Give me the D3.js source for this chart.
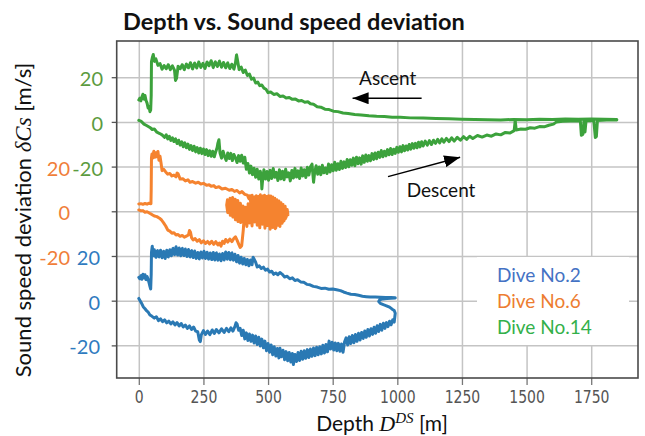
<!DOCTYPE html>
<html><head><meta charset="utf-8">
<script src="https://cdn.jsdelivr.net/npm/d3@7"></script>
<style>body{margin:0;background:#fff}svg{display:block}</style>
</head><body><svg id="c" width="645" height="436"></svg>
<script>
// ---------------- data ----------------
const depthTicks = [0, 250, 500, 750, 1000, 1250, 1500, 1750];
const yGridValues = [-60, -40, -20, 0, 20, 40, 60];
const seriesTickLabels = [20, 0, -20];
const diveNames = ["Dive No.2", "Dive No.6", "Dive No.14"];
const diveOffsets = [-40, 0, 40];   // vertical stacking offsets of the three dives [m/s]

const dive2Descent = [[0,1],[5,0],[10,-1],[17,-2.7],[24,-3.6],[30,-4.5],[36,-5.1],[43,-6.4],[50,-6.9],[60,-7.8],[68,-7.2],[76,-8.9],[84,-8.1],[92,-9.4],[100,-8.6],[108,-9.9],[116,-9.1],[124,-10.4],[132,-9.5],[140,-10.9],[148,-9.8],[156,-11.3],[164,-10.2],[172,-11.8],[180,-10.9],[188,-12.4],[196,-11.3],[204,-12.9],[212,-11.8],[220,-13.6],[228,-13.9],[234,-17.6],[238,-18.3],[242,-15.2],[250,-13.4],[258,-15.1],[266,-13.6],[275,-15.2],[284,-13.1],[292,-14.7],[300,-12.9],[310,-14.4],[320,-12.6],[330,-14.2],[339,-12.4],[348,-13.9],[356,-12.2],[364,-13.6],[372,-11.5],[376,-9.9],[380,-10.4],[386,-13.2],[392,-12.4],[398,-15.6],[404,-13.2],[410,-17.1],[416,-14.4],[422,-17.8],[428,-14.9],[434,-18.2],[440,-15.4],[446,-18.9],[452,-15.8],[458,-19.6],[464,-16.4],[470,-20.3],[476,-17.2],[482,-21.1],[488,-18.1],[494,-22.4],[500,-19.2],[506,-23.1],[512,-19.8],[518,-24.2],[524,-20.6],[530,-24.8],[536,-21.4],[542,-25.6],[546,-21.3],[552,-25.1],[558,-22.2],[564,-26.4],[570,-22.8],[576,-26.9],[582,-23.2],[588,-27.4],[594,-23.6],[598,-28.6],[604,-24.1],[610,-27.2],[616,-23.2],[622,-26.8],[628,-22.6],[634,-26.2],[640,-22.4],[646,-25.8],[652,-21.9],[658,-25.4],[664,-21.6],[670,-24.9],[676,-21.2],[682,-24.6],[688,-20.8],[694,-24.2],[700,-20.6],[706,-23.8],[712,-19.9],[718,-23.4],[724,-19.6],[730,-22.9],[736,-18.1],[742,-21.6],[748,-18.6],[754,-22.1],[760,-18.9],[766,-22.4],[772,-19.1],[778,-22.6],[784,-19.4],[790,-23.1],[796,-18.4],[802,-16.6],[808,-19.8],[814,-16.1],[820,-19.2],[826,-15.6],[832,-18.8],[838,-15.1],[844,-18.2],[850,-14.6],[856,-17.6],[862,-14.2],[868,-16.9],[874,-13.6],[880,-16.4],[886,-12.9],[892,-15.8],[898,-12.6],[904,-15.1],[910,-11.9],[916,-14.6],[922,-11.2],[928,-13.8],[934,-10.6],[940,-13.2],[946,-10.1],[952,-12.4],[958,-9.8],[964,-11.6],[970,-9.2],[976,-10.8],[982,-8.6],[988,-9.6],[990,-7.6],[992,-5.6],[988,-4.4],[980,-3.8],[970,-2.9],[958,-2.3],[946,-1.8],[934,-1.2],[928,-0.4],[932,0.4],[945,0.8],[960,1.0],[975,1.1],[992,1.2]];
const dive2Ascent = [[992,1.3],[975,1.4],[955,1.4],[934,1.5],[915,1.6],[895,1.6],[880,1.8],[865,2.0],[850,2.4],[835,2.8],[820,2.9],[805,3.4],[792,3.9],[780,4.5],[765,4.9],[750,5.2],[735,5.1],[720,5.6],[705,5.5],[690,6.1],[675,6.4],[662,7.1],[650,7.3],[638,8.2],[626,8.4],[614,9.4],[604,9.0],[594,10.2],[584,9.8],[574,10.9],[564,10.6],[554,11.9],[546,12.6],[538,11.6],[530,12.4],[522,11.8],[514,13.2],[506,12.8],[498,14.1],[490,13.6],[482,15.0],[474,14.4],[466,15.6],[458,15.1],[452,17.2],[446,18.6],[442,19.4],[438,16.1],[432,18.2],[426,15.6],[420,18.4],[414,16.1],[408,18.9],[402,16.4],[396,19.4],[390,16.8],[384,20.2],[378,17.4],[372,20.8],[366,18.1],[360,21.4],[354,18.3],[348,21.6],[342,18.6],[336,21.8],[330,18.2],[324,21.1],[318,17.9],[312,20.9],[306,18.1],[300,21.4],[294,18.2],[288,21.6],[282,18.4],[276,21.3],[270,18.6],[264,21.7],[258,18.9],[252,22.1],[246,19.1],[240,21.8],[234,18.7],[228,21.6],[222,18.9],[216,22.2],[210,19.3],[204,22.4],[198,19.6],[192,22.9],[186,19.8],[180,23.1],[174,20.2],[168,23.4],[162,20.1],[156,23.6],[150,20.4],[144,24.1],[138,20.6],[132,23.4],[126,20.1],[120,22.8],[114,19.6],[108,22.6],[102,18.9],[96,22.1],[90,19.2],[84,22.6],[78,19.6],[72,22.4],[66,19.4],[60,22.8],[56,20.1],[52,24.4],[49,21.6],[48,12],[46,5.2],[43,6.4],[40,7.8],[36,9.6],[32,10.8],[28,9.4],[24,11.6],[20,10.2],[16,11.8],[12,9.6],[8,11.2],[4,9.8],[0,10.4]];

const dive6Descent = [[0,0.6],[8,0.2],[16,0.3],[24,-0.4],[32,-0.2],[42,-0.9],[50,-1.4],[60,-2.1],[70,-2.4],[80,-3.1],[88,-3.9],[96,-5.2],[104,-6.6],[112,-8.4],[120,-8.9],[128,-9.8],[136,-9.6],[144,-10.6],[152,-10.4],[160,-11.2],[168,-10.8],[176,-11.6],[184,-11.1],[192,-10.6],[196,-8.6],[200,-9.4],[204,-11.8],[210,-12.8],[218,-12.2],[226,-13.4],[234,-12.7],[242,-14.1],[250,-13.2],[258,-14.4],[266,-13.5],[274,-14.6],[282,-13.4],[290,-14.8],[298,-13.6],[306,-15.1],[312,-14.2],[318,-15.6],[324,-13.4],[330,-14.4],[336,-12.6],[344,-13.8],[352,-12.4],[360,-13.6],[368,-12.1],[374,-11.4],[380,-12.9],[386,-14.6],[392,-16.2],[398,-15.4],[401,-12],[404,-8.5],[406,-5.4],[403,-4.2],[398,-1.5],[394,-5.0],[389,-0.8],[384,-4.6],[379,1.2],[374,-3.8],[369,2.4],[364,-2.6],[359,3.6],[354,-1.8],[349,4.4],[344,-0.6],[340,2.8],[343,5.2],[348,0.6],[353,5.8],[358,1.4],[363,6.2],[368,0.2],[373,5.4],[378,-1.6],[383,4.8],[388,-2.4],[393,3.6],[398,-3.8],[403,2.4],[408,-5.6],[413,1.8],[418,-6.8],[423,3.4],[428,-5.2],[433,4.6],[438,-6.6],[443,5.2],[448,-4.8],[453,6.2],[458,-6.2],[463,5.6],[468,-7.4],[473,6.4],[478,-5.8],[483,5.8],[488,-7.6],[493,6.6],[498,-6.4],[503,5.2],[508,-8.0],[513,4.8],[518,-7.2],[523,4.2],[528,-7.8],[533,3.6],[538,-6.2],[543,2.8],[548,-5.4],[553,2.2],[558,-4.6],[563,1.4],[568,-3.2],[573,0.4],[577,-1.6]];
const dive6Ascent = [[574,0.8],[570,-2.6],[566,2.2],[562,-4.2],[558,3.0],[554,-5.4],[550,3.8],[546,-6.8],[542,4.6],[538,-5.6],[534,5.2],[530,-7.4],[526,5.8],[522,-6.2],[518,6.4],[514,-4.6],[510,6.8],[506,-3.6],[502,7.0],[498,-2.4],[494,6.6],[490,-1.6],[486,7.2],[482,-3.2],[478,6.8],[474,-0.8],[470,7.4],[466,-2.2],[462,6.6],[458,0.4],[454,7.0],[450,-1.4],[446,6.4],[442,1.2],[438,7.2],[434,2.6],[430,7.0],[426,5.6],[420,7.2],[410,7.6],[399,8.8],[390,8.2],[380,9.3],[370,8.9],[360,9.8],[350,9.4],[335,10.3],[322,10.0],[310,11.0],[298,10.6],[290,11.5],[280,11.2],[272,11.9],[262,11.6],[250,12.5],[240,12.2],[230,13.0],[220,12.6],[208,13.3],[198,13.0],[190,14.1],[180,13.6],[170,14.6],[160,14.4],[152,16.8],[148,17.1],[144,15.4],[136,16.2],[128,15.8],[120,16.9],[112,16.6],[104,17.6],[96,18.8],[90,18.2],[86,21.6],[82,24.6],[78,22.8],[74,26.8],[70,24.4],[66,26.2],[62,24.2],[58,26.9],[54,23.8],[51,25.6],[49,24],[48,10],[47,3.4],[40,3.6],[32,3.2],[24,3.5],[16,3.1],[8,3.4],[0,3.3]];

const dive14Descent = [[0,0.7],[10,0.2],[20,-1],[30,-1.6],[43,-2.5],[52,-3.4],[60,-3.2],[70,-4.6],[81,-5.2],[90,-5.8],[100,-6.9],[106,-5.8],[112,-7.6],[118,-6.4],[124,-8.3],[130,-7.1],[136,-8.8],[142,-7.6],[148,-9.7],[154,-8.2],[160,-10.4],[166,-8.9],[172,-11.1],[178,-9.4],[184,-11.6],[190,-9.9],[196,-12.3],[202,-10.6],[208,-12.8],[214,-10.9],[220,-13.4],[226,-11.5],[232,-13.9],[238,-11.8],[244,-14.2],[250,-12.1],[256,-14.6],[262,-12.4],[268,-15.1],[274,-12.9],[280,-15.4],[286,-13.1],[292,-15.6],[298,-13.2],[303,-11.5],[306,-9.5],[310,-8],[314,-13.8],[320,-16.2],[326,-13.1],[332,-15.6],[338,-17.2],[344,-13.9],[350,-16.4],[356,-14.1],[362,-17.3],[368,-14.6],[374,-16.1],[380,-18.2],[386,-15.1],[392,-17.6],[398,-14.9],[404,-18.4],[410,-15.8],[416,-21.2],[422,-18.6],[428,-22.9],[434,-19.8],[440,-23.6],[446,-20.7],[452,-24.8],[458,-21.2],[464,-25.6],[470,-22.1],[474,-24.9],[476,-30],[479,-25.8],[484,-21.4],[490,-25.6],[496,-22.2],[502,-26.1],[508,-21.6],[514,-25.3],[520,-20.9],[526,-24.8],[532,-22.6],[538,-26.2],[544,-21.4],[550,-25.5],[556,-22.1],[562,-25.9],[568,-21.2],[574,-24.6],[580,-22.8],[586,-26.4],[592,-21.7],[598,-25.1],[604,-20.8],[610,-24.7],[616,-21.9],[622,-25.3],[628,-20.6],[634,-24.2],[640,-21.4],[646,-24.9],[652,-20.3],[658,-23.8],[664,-20.1],[670,-18.9],[676,-27],[680,-22.8],[686,-19.6],[692,-23.4],[698,-20.2],[704,-23.6],[710,-19.4],[716,-22.8],[722,-20.6],[728,-23.1],[734,-18.8],[740,-22.4],[746,-19.2],[752,-21.9],[758,-18.1],[764,-21.6],[770,-18.7],[776,-21.3],[782,-17.6],[788,-20.8],[794,-17.9],[800,-20.4],[806,-16.8],[812,-20.1],[818,-16.9],[824,-19.4],[830,-16.2],[836,-19.6],[842,-15.8],[848,-18.7],[854,-16.1],[860,-18.9],[866,-15.2],[872,-18.1],[878,-14.8],[884,-17.6],[890,-15.1],[896,-17.4],[902,-14.2],[908,-16.8],[914,-13.9],[920,-16.5],[926,-13.6],[932,-15.9],[938,-12.8],[944,-15.6],[950,-13.1],[956,-15.2],[962,-12.4],[968,-14.7],[974,-11.9],[980,-14.6],[986,-12.2],[992,-14.1],[998,-11.4],[1004,-13.6],[1010,-11.1],[1016,-13.4],[1022,-10.6],[1028,-12.9],[1034,-10.8],[1040,-12.6],[1046,-10.1],[1052,-12.2],[1058,-9.7],[1064,-11.8],[1070,-9.6],[1076,-11.6],[1082,-9.1],[1088,-11.2],[1094,-8.9],[1100,-10.8],[1108,-8.6],[1116,-10.4],[1124,-8.4],[1132,-10.1],[1140,-8.2],[1148,-9.6],[1156,-7.8],[1164,-9.4],[1172,-7.6],[1180,-9.1],[1190,-7.4],[1200,-8.8],[1210,-7.1],[1220,-8.6],[1232,-6.9],[1244,-8.2],[1256,-6.6],[1268,-7.8],[1280,-6.4],[1292,-7.4],[1310,-6.1],[1328,-6.8],[1346,-5.9],[1364,-6.4],[1382,-5.4],[1400,-5.8],[1418,-4.7],[1436,-5],[1452,-3.9],[1456,0.5],[1460,-3.6],[1478,-3.2],[1496,-3.3],[1514,-2.6],[1532,-2.8],[1550,-2.1],[1568,-2.2],[1586,-1.5],[1604,-1],[1616,0],[1640,0.3],[1670,0.4],[1700,0.5],[1708,0.4],[1712,-6],[1718,-5.5],[1722,0.4],[1726,-4.5],[1730,0.5],[1760,0.6],[1766,-7],[1770,-6.5],[1774,0.6],[1810,0.8],[1849,0.9]];
const dive14Ascent = [[1849,1.1],[1800,1.2],[1750,1.3],[1700,1.2],[1650,1.3],[1600,1.1],[1550,1.2],[1500,1.0],[1450,1.1],[1400,0.9],[1350,1.0],[1300,1.1],[1250,1.2],[1200,1.4],[1150,1.5],[1100,1.7],[1050,1.8],[1011,2.1],[980,2.1],[950,2.4],[920,2.5],[890,2.7],[860,3.1],[835,3.3],[810,3.8],[790,4.0],[770,4.6],[753,4.8],[736,5.5],[720,5.7],[704,6.6],[690,6.8],[676,7.9],[664,8.1],[654,9.0],[642,8.8],[630,9.6],[618,9.4],[606,10.2],[594,10.1],[582,10.9],[570,10.7],[558,11.6],[546,11.4],[534,12.6],[522,12.3],[510,13.4],[500,13.1],[492,14.6],[484,15.1],[476,16.5],[468,16.2],[460,17.8],[452,17.4],[444,19.6],[436,19.1],[428,21.4],[420,20.8],[412,23.2],[404,22.1],[396,24.5],[388,23.4],[382,27.5],[378,30],[374,26.5],[368,23.6],[360,25.8],[352,23.9],[344,26.4],[336,24.2],[328,26.6],[320,24.5],[312,27.2],[304,24.8],[296,26.9],[288,24.3],[280,27.4],[272,25.1],[264,26.8],[256,23.9],[248,26.2],[240,24.4],[232,26.8],[224,24.1],[216,26.3],[208,23.7],[200,26.5],[192,24.2],[184,25.9],[176,23.4],[168,25.6],[160,23.8],[152,24.9],[146,19.5],[142,18.6],[138,23.2],[130,25.1],[122,23.4],[114,25.6],[106,23.8],[98,25.2],[90,23.6],[82,26.1],[74,25.3],[66,28.2],[60,27.1],[56,30.2],[52,28.6],[49,27],[48,12],[46,5.4],[43,4.6],[40,6.8],[36,6.2],[32,8.4],[28,9.6],[24,11.8],[20,10.2],[16,12.4],[12,11.1],[8,9.4],[4,10.6],[0,9.8]];

const dives = [
  {name: diveNames[0], offset: diveOffsets[0], points: dive2Descent.concat(dive2Ascent)},
  {name: diveNames[1], offset: diveOffsets[1], points: dive6Descent.concat(dive6Ascent)},
  {name: diveNames[2], offset: diveOffsets[2], points: dive14Descent.concat(dive14Ascent)}
];

// annotations in data coordinates (depth, stacked deviation)
const annotationTexts = ["Ascent", "Descent"];
const annotationAnchors = [[852, 56.5], [1036, 6.4]];
const arrowStarts = [[1094, 50.6], [964, 15.5]];
const arrowEnds = [[827, 50.6], [1243, 24.2]];

// ---------------- styles ----------------
const lineColors = ["#2a79b4", "#f5832f", "#3ca23c"];
const tickLabelColors = ["#2f7bc0", "#f07e3a", "#5c9b40"];
const tickLabelX = [100, 70, 103];
const legendColors = ["#4472c4", "#ed7d31", "#33b04a"];
const FONT = "Lato, 'Open Sans', sans-serif";

const L = 116.7, R = 638, T = 41, B = 378;
const svg = d3.select("#c");
const x = d3.scaleLinear().domain([-85.5, 1931]).range([L, R]);
const y = d3.scaleLinear().domain([-74.6, 76.2]).range([B, T]);

// grid
const gx = svg.append("g").attr("transform", `translate(0,${B})`)
  .call(d3.axisBottom(x).tickValues(depthTicks).tickSize(-(B - T)).tickFormat(""));
gx.select(".domain").remove();
gx.selectAll("line").attr("stroke", "#c4c4c4").attr("stroke-width", 1.5);
const gy = svg.append("g").attr("transform", `translate(${L},0)`)
  .call(d3.axisLeft(y).tickValues(yGridValues).tickSize(-(R - L)).tickFormat(""));
gy.select(".domain").remove();
gy.selectAll("line").attr("stroke", "#c4c4c4").attr("stroke-width", 1.5);

// legend box (covers grid)
const legend = svg.append("g");
legend.append("rect").attr("x", 477).attr("y", 257).attr("width", 152).attr("height", 88).attr("fill", "#fff");

// lines
const line = d3.line();
dives.forEach((dv, i) => {
  svg.append("path")
    .attr("d", line.x(d => x(d[0])).y(d => y(d[1] + dv.offset))(dv.points))
    .attr("fill", "none").attr("stroke", lineColors[i])
    .attr("stroke-width", 3).attr("stroke-linejoin", "round").attr("stroke-linecap", "round");
});

// legend text
diveNames.forEach((n, i) => {
  legend.append("text").attr("x", 497).attr("y", 282 + i * 26)
    .attr("font-family", FONT).attr("font-size", 19).attr("fill", legendColors[i]).text(n);
});

// axes ticks
const ax = svg.append("g").attr("transform", `translate(0,${B})`)
  .call(d3.axisBottom(x).tickValues(depthTicks).tickSize(7).tickPadding(6).tickFormat(d3.format("d")));
ax.select(".domain").remove();
ax.selectAll("line").attr("stroke", "#777").attr("stroke-width", 1.3);
ax.selectAll("text").attr("font-family", "'DejaVu Sans', sans-serif").attr("font-size", 17.5)
  .attr("fill", "#555").attr("transform", "scale(0.8,1)");
const ay = svg.append("g").attr("transform", `translate(${L},0)`)
  .call(d3.axisLeft(y).tickValues(yGridValues).tickSize(5).tickFormat(""));
ay.select(".domain").remove();
ay.selectAll("line").attr("stroke", "#555").attr("stroke-width", 1.3);

// colored y tick labels
dives.forEach((dv, i) => {
  svg.append("g").selectAll("text").data(seriesTickLabels).join("text")
    .attr("x", tickLabelX[i]).attr("y", d => y(d + dv.offset)).attr("dy", "0.45em")
    .attr("text-anchor", "end").attr("font-family", FONT).attr("font-size", 20)
    .attr("fill", tickLabelColors[i]).text(d => d);
});

// frame
svg.append("rect").attr("x", L).attr("y", T).attr("width", R - L).attr("height", B - T)
  .attr("fill", "none").attr("stroke", "#4a4a4a").attr("stroke-width", 1.6);

// annotations
svg.append("defs").append("marker").attr("id", "ah").attr("markerUnits", "userSpaceOnUse")
  .attr("markerWidth", 17).attr("markerHeight", 12).attr("refX", 16).attr("refY", 6)
  .attr("orient", "auto").append("path").attr("d", "M0,0 L16,6 L0,12 Z").attr("fill", "#000");
annotationTexts.forEach((t, i) => {
  svg.append("text").attr("x", x(annotationAnchors[i][0])).attr("y", y(annotationAnchors[i][1]))
    .attr("font-family", FONT).attr("font-size", 19).attr("fill", "#111").text(t);
  svg.append("line").attr("x1", x(arrowStarts[i][0])).attr("y1", y(arrowStarts[i][1]))
    .attr("x2", x(arrowEnds[i][0])).attr("y2", y(arrowEnds[i][1]))
    .attr("stroke", "#000").attr("stroke-width", 1.5).attr("marker-end", "url(#ah)");
});

// title
svg.append("text").attr("x", 123).attr("y", 30).attr("font-family", FONT)
  .attr("font-weight", "bold").attr("font-size", 23.5).attr("fill", "#111")
  .text("Depth vs. Sound speed deviation");

// x label
const xl = svg.append("text").attr("x", 382).attr("y", 431).attr("text-anchor", "middle")
  .attr("font-family", FONT).attr("font-size", 21).attr("fill", "#111");
xl.append("tspan").text("Depth ");
xl.append("tspan").attr("font-family", "'Liberation Serif', serif").attr("font-style", "italic").attr("font-size", 22).text("D");
xl.append("tspan").attr("font-family", "'Liberation Serif', serif").attr("font-style", "italic").attr("font-size", 15).attr("dy", -8).text("DS");
xl.append("tspan").attr("dy", 8).text(" [m]");

// y label
const yl = svg.append("text").attr("transform", "translate(31,220) rotate(-90)").attr("text-anchor", "middle")
  .attr("font-family", FONT).attr("font-size", 22).attr("fill", "#111");
yl.append("tspan").text("Sound speed deviation ");
yl.append("tspan").attr("font-family", "'Liberation Serif', serif").attr("font-style", "italic").attr("font-size", 23).text("δCs");
yl.append("tspan").text(" [m/s]");
</script></body></html>
